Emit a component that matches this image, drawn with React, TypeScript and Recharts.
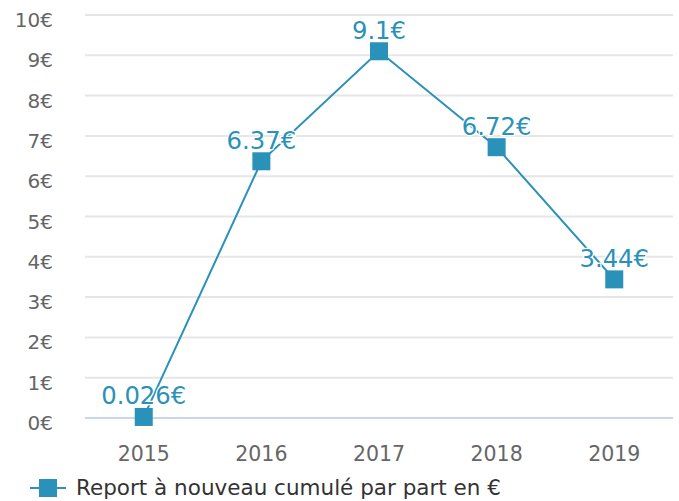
import React from "react";
import { LineChart, Line, XAxis, YAxis, CartesianGrid, Legend, LabelList, ReferenceLine } from "recharts";

const years = ["2015", "2016", "2017", "2018", "2019"];
const values = [0.026, 6.37, 9.1, 6.72, 3.44];
const labels = ["0.026€", "6.37€", "9.1€", "6.72€", "3.44€"];
const yTicks = [0, 1, 2, 3, 4, 5, 6, 7, 8, 9, 10];
const seriesName = "Report à nouveau cumulé par part en €";

const data = years.map((y, i) => ({ year: y, value: values[i], label: labels[i] }));

const COLOR = "#2a91b9";
const FONT = "'DejaVu Sans', sans-serif";

const SquareDot = (props: any) => {
  const { cx, cy } = props;
  if (cx == null || cy == null) return null;
  return <rect x={cx - 9} y={cy - 9} width={18} height={18} fill={COLOR} />;
};

const YTick = (props: any) => {
  const { y, payload } = props;
  return (
    <text x={53} y={y + 12} textAnchor="end" fontSize={20} fill="#666666" fontFamily={FONT}>
      {payload.value}€
    </text>
  );
};

const XTick = (props: any) => {
  const { x, payload } = props;
  return (
    <text x={x} y={461} textAnchor="middle" fontSize={20.5} fill="#666666" fontFamily={FONT}>
      {payload.value}
    </text>
  );
};

const DataLabel = (props: any) => {
  const { x, y, index } = props;
  return (
    <text
      x={x}
      y={y - 12.5}
      textAnchor="middle"
      fontSize={24.3}
      fill={COLOR}
      stroke="#ffffff"
      strokeWidth={2.5}
      paintOrder="stroke"
      fontFamily={FONT}
    >
      {labels[index]}
    </text>
  );
};

const LegendContent = () => (
  <svg width={679} height={36} style={{ display: "block" }}>
    <line x1={30} y1={23} x2={66} y2={23} stroke={COLOR} strokeWidth={2} />
    <rect x={39} y={14} width={18} height={18} fill={COLOR} />
    <text x={76} y={30} fontSize={21.5} fill="#333333" fontFamily={FONT}>
      {seriesName}
    </text>
  </svg>
);

export default function App() {
  return (
    <div style={{ position: "absolute", left: 0, top: 0, width: 679, height: 501, background: "#fff" }}>
      <LineChart width={679} height={501} data={data} margin={{ top: 15, right: 6, left: 0, bottom: 0 }}>
        <CartesianGrid vertical={false} stroke="#e6e6e6" strokeWidth={2} />
        <XAxis
          dataKey="year"
          axisLine={false}
          tickLine={false}
          height={47}
          padding={{ left: 58.75, right: 58.75 }}
          tick={<XTick />}
          interval={0}
        />
        <YAxis
          width={85}
          domain={[0, 10]}
          ticks={yTicks}
          axisLine={false}
          tickLine={false}
          tick={<YTick />}
          interval={0}
        />
        <ReferenceLine y={0} stroke="#ccd6eb" strokeWidth={2} />
        <Legend verticalAlign="bottom" height={36} content={<LegendContent />} />
        <Line
          dataKey="value"
          name={seriesName}
          stroke={COLOR}
          strokeWidth={2}
          dot={<SquareDot />}
          activeDot={false}
          isAnimationActive={false}
        >
          <LabelList dataKey="label" content={<DataLabel />} />
        </Line>
      </LineChart>
    </div>
  );
}
